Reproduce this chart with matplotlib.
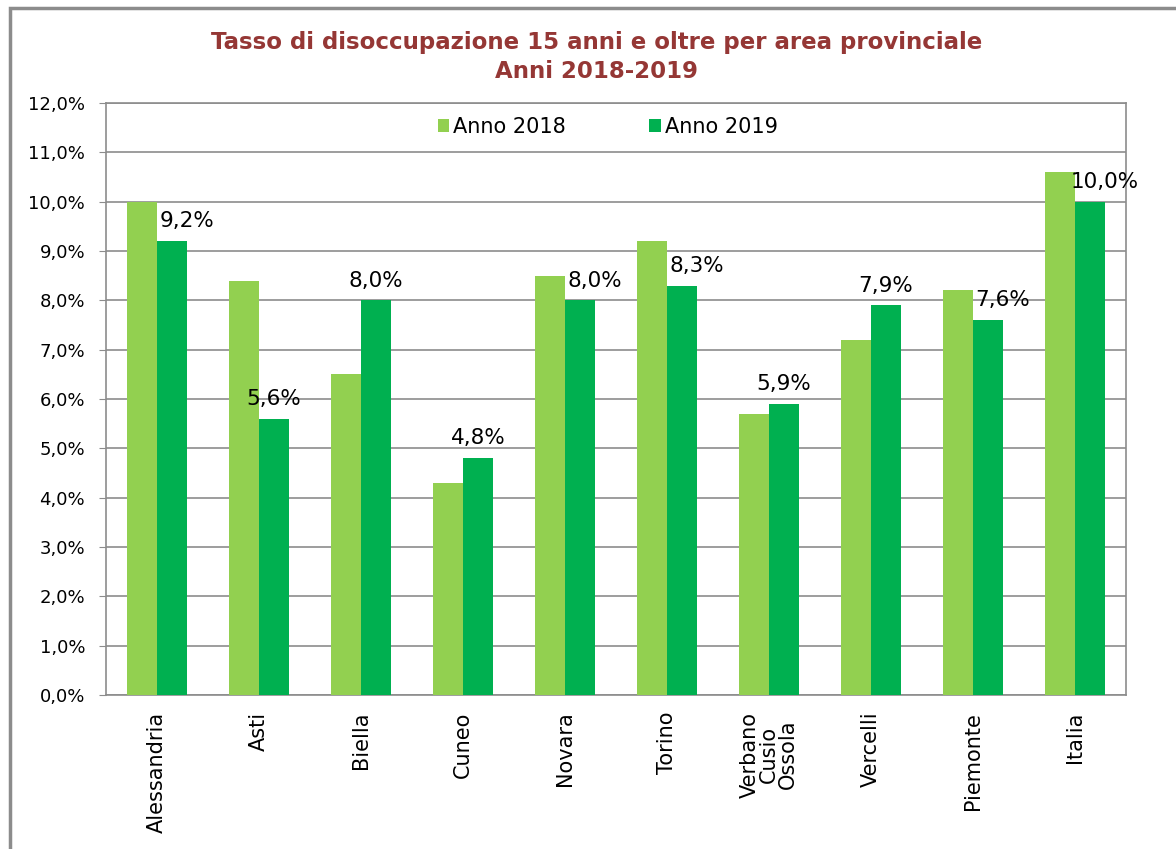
import numpy as np
import matplotlib
matplotlib.use("Agg")
import matplotlib.pyplot as plt
from matplotlib.patches import Rectangle
from matplotlib.ticker import FuncFormatter

# data
categories = ["Alessandria", "Asti", "Biella", "Cuneo", "Novara", "Torino",
              "Verbano\nCusio\nOssola", "Vercelli", "Piemonte", "Italia"]
anno_2018 = [10.0, 8.4, 6.5, 4.3, 8.5, 9.2, 5.7, 7.2, 8.2, 10.6]
anno_2019 = [9.2, 5.6, 8.0, 4.8, 8.0, 8.3, 5.9, 7.9, 7.6, 10.0]
y_ticks = np.arange(0, 13, 1)

col_2018 = "#92D050"
col_2019 = "#00B050"
title_col = "#953735"

plt.rcParams["font.family"] = "DejaVu Sans"

fig = plt.figure(figsize=(11.76, 8.49), dpi=100)
# outer chart border
fig.patches.append(Rectangle((10 / 1176, -0.01), 1.2, 1 - 8 / 849 + 0.01,
                             transform=fig.transFigure, fill=False,
                             edgecolor="#8c8c8c", linewidth=2.5))

ax = fig.add_axes([106 / 1176, 1 - 695 / 849, 1020 / 1176, 592 / 849])

x = np.arange(len(categories))
w = 0.295
ax.bar(x - w / 2, anno_2018, w, color=col_2018, label="Anno 2018", zorder=3)
ax.bar(x + w / 2, anno_2019, w, color=col_2019, label="Anno 2019", zorder=3)

# value labels on 2019 bars, nudged right when they would sit on the 2018 bar
for xi, a, b in zip(x, anno_2018, anno_2019):
    dx = w / 2 if 0 < a - b < 1 else 0
    ax.annotate(f"{b:.1f}%".replace(".", ","), (xi + w / 2 + dx, b),
                xytext=(0, 7), textcoords="offset points",
                ha="center", va="bottom", fontsize=15.5, color="black", zorder=4)

ax.set_xlim(-0.5, len(categories) - 0.5)
ax.set_ylim(0, 12)
ax.set_yticks(y_ticks)
ax.yaxis.set_major_formatter(FuncFormatter(lambda v, p: f"{v:.1f}%".replace(".", ",")))
ax.grid(axis="y", color="#8c8c8c", linewidth=1.2, zorder=0)
ax.set_xticks(x)
ax.set_xticklabels(categories, rotation=90, fontsize=15,
                   va="top", ha="center", linespacing=0.95)
ax.tick_params(axis="x", length=0, pad=12)
ax.tick_params(axis="y", length=5, color="#8c8c8c", labelsize=13, pad=10)
for sp in ax.spines.values():
    sp.set_color("#8c8c8c")
    sp.set_linewidth(1.2)

ax.legend(loc="upper center", bbox_to_anchor=(0.492, 1.008), ncol=2, frameon=False,
          handlelength=0.55, handleheight=0.55, handletextpad=0.2,
          columnspacing=4.0, prop={"size": 15})

fig.text(0.507, 1 - 43 / 849, "Tasso di disoccupazione 15 anni e oltre per area provinciale",
         ha="center", va="center", fontsize=16.5, fontweight="bold", color=title_col)
fig.text(0.507, 1 - 72 / 849, "Anni 2018-2019", ha="center", va="center",
         fontsize=16.5, fontweight="bold", color=title_col)

fig.savefig("out.png", dpi=100)
